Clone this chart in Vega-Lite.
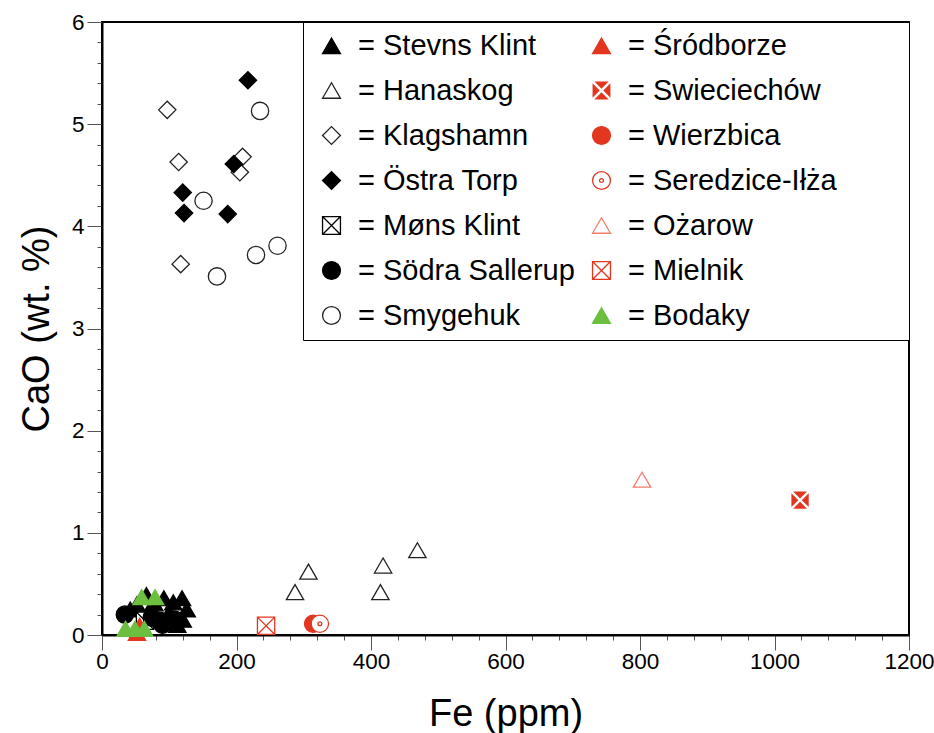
{
  "$schema": "https://vega.github.io/schema/vega-lite/v6.json",
  "width": 807,
  "height": 613,
  "autosize": {"type": "none"},
  "padding": {"left": 102, "top": 22, "right": 25, "bottom": 98},
  "background": "white",
  "config": {
    "view": {"stroke": "black", "strokeWidth": 2},
    "font": "Liberation Sans",
    "axis": {
      "domainColor": "black", "domainWidth": 2,
      "tickColor": "#555", "tickWidth": 1,
      "labelFont": "Liberation Sans", "labelFontSize": 22.5, "labelColor": "black",
      "labelOverlap": false, "labelBound": false, "labelFlush": false,
      "titleFont": "Liberation Sans", "titleFontWeight": "normal", "titleColor": "black",
      "grid": false
    },
    "legend": {
      "orient": "top-right", "offset": 0, "columns": 2,
      "padding": 9, "rowPadding": 15, "columnPadding": 7, "symbolOffset": 5,
      "symbolSize": 320, "symbolStrokeWidth": 1.3,
      "labelFont": "Liberation Sans", "labelFontSize": 29, "labelColor": "black", "labelOffset": 12, "labelLimit": 600,
      "fillColor": "white", "strokeColor": "black"
    }
  },
  "data": {
    "values": [
      {"site": "Hanaskog", "Fe": 307, "CaO": 0.62},
      {"site": "Hanaskog", "Fe": 287, "CaO": 0.42},
      {"site": "Hanaskog", "Fe": 418, "CaO": 0.68},
      {"site": "Hanaskog", "Fe": 414, "CaO": 0.42},
      {"site": "Hanaskog", "Fe": 469, "CaO": 0.83},
      {"site": "Klagshamn", "Fe": 97, "CaO": 5.14},
      {"site": "Klagshamn", "Fe": 114, "CaO": 4.63},
      {"site": "Klagshamn", "Fe": 209, "CaO": 4.68},
      {"site": "Klagshamn", "Fe": 205, "CaO": 4.53},
      {"site": "Klagshamn", "Fe": 117, "CaO": 3.63},
      {"site": "Smygehuk", "Fe": 235, "CaO": 5.13},
      {"site": "Smygehuk", "Fe": 151, "CaO": 4.25},
      {"site": "Smygehuk", "Fe": 171, "CaO": 3.51},
      {"site": "Smygehuk", "Fe": 229, "CaO": 3.72},
      {"site": "Smygehuk", "Fe": 261, "CaO": 3.81},
      {"site": "Ożarow", "Fe": 803, "CaO": 1.52},
      {"site": "Mielnik", "Fe": 244, "CaO": 0.09},
      {"site": "Wierzbica", "Fe": 314, "CaO": 0.11},
      {"site": "Seredzice-Iłża", "Fe": 324, "CaO": 0.11},
      {"site": "Swieciechów", "Fe": 1038, "CaO": 1.32},
      {"site": "Östra Torp", "Fe": 217, "CaO": 5.43},
      {"site": "Östra Torp", "Fe": 196, "CaO": 4.61},
      {"site": "Östra Torp", "Fe": 120, "CaO": 4.33},
      {"site": "Östra Torp", "Fe": 122, "CaO": 4.13},
      {"site": "Östra Torp", "Fe": 187, "CaO": 4.12},
      {"site": "Stevns Klint", "Fe": 42, "CaO": 0.25},
      {"site": "Stevns Klint", "Fe": 52, "CaO": 0.30},
      {"site": "Stevns Klint", "Fe": 66, "CaO": 0.39},
      {"site": "Stevns Klint", "Fe": 78, "CaO": 0.31},
      {"site": "Stevns Klint", "Fe": 92, "CaO": 0.36},
      {"site": "Stevns Klint", "Fe": 100, "CaO": 0.22},
      {"site": "Stevns Klint", "Fe": 106, "CaO": 0.32},
      {"site": "Stevns Klint", "Fe": 119, "CaO": 0.36},
      {"site": "Stevns Klint", "Fe": 126, "CaO": 0.25},
      {"site": "Stevns Klint", "Fe": 120, "CaO": 0.15},
      {"site": "Stevns Klint", "Fe": 112, "CaO": 0.10},
      {"site": "Stevns Klint", "Fe": 70, "CaO": 0.24},
      {"site": "Møns Klint", "Fe": 64, "CaO": 0.14},
      {"site": "Södra Sallerup", "Fe": 34, "CaO": 0.20},
      {"site": "Södra Sallerup", "Fe": 74, "CaO": 0.17},
      {"site": "Södra Sallerup", "Fe": 86, "CaO": 0.14},
      {"site": "Södra Sallerup", "Fe": 96, "CaO": 0.13},
      {"site": "Södra Sallerup", "Fe": 108, "CaO": 0.15},
      {"site": "Södra Sallerup", "Fe": 90, "CaO": 0.10},
      {"site": "Śródborze", "Fe": 52, "CaO": 0.02},
      {"site": "Śródborze", "Fe": 56, "CaO": 0.09},
      {"site": "Bodaky", "Fe": 59, "CaO": 0.37},
      {"site": "Bodaky", "Fe": 79, "CaO": 0.37},
      {"site": "Bodaky", "Fe": 35, "CaO": 0.06},
      {"site": "Bodaky", "Fe": 49, "CaO": 0.06},
      {"site": "Bodaky", "Fe": 63, "CaO": 0.06}
    ]
  },
  "layer": [
    {
      "mark": {"type": "point", "opacity": 0},
      "encoding": {
        "x": {
          "field": "Fe", "type": "quantitative",
          "axis": {
            "orient": "bottom", "title": null, "labels": false, "domain": false, "tickSize": 5,
            "values": [40,80,120,160,240,280,320,360,440,480,520,560,640,680,720,760,840,880,920,960,1040,1080,1120,1160]
          }
        },
        "y": {
          "field": "CaO", "type": "quantitative",
          "axis": {
            "orient": "left", "title": null, "labels": false, "domain": false, "tickSize": 5,
            "values": [0.2,0.4,0.6,0.8,1.2,1.4,1.6,1.8,2.2,2.4,2.6,2.8,3.2,3.4,3.6,3.8,4.2,4.4,4.6,4.8,5.2,5.4,5.6,5.8]
          }
        }
      }
    },
    {
      "mark": {"type": "point", "size": 300, "strokeWidth": 1.3, "opacity": 1, "clip": false},
      "encoding": {
        "x": {
          "field": "Fe", "type": "quantitative",
          "scale": {"domain": [0, 1200], "nice": false, "zero": false},
          "axis": {
            "orient": "bottom",
            "title": "Fe (ppm)", "titleFontSize": 38, "titlePadding": 23,
            "values": [0, 200, 400, 600, 800, 1000, 1200],
            "format": "d", "tickSize": 15, "labelPadding": 0
          }
        },
        "y": {
          "field": "CaO", "type": "quantitative",
          "scale": {"domain": [0, 6], "nice": false, "zero": false},
          "axis": {
            "orient": "left",
            "title": "CaO (wt. %)", "titleFontSize": 38, "titlePadding": 15,
            "values": [0, 1, 2, 3, 4, 5, 6],
            "format": "d", "tickSize": 15, "labelPadding": 3
          }
        },
        "shape": {
          "field": "site", "type": "nominal", "title": null,
          "scale": {
            "domain": ["Stevns Klint", "Hanaskog", "Klagshamn", "Östra Torp", "Møns Klint", "Södra Sallerup", "Smygehuk", "Śródborze", "Swieciechów", "Wierzbica", "Seredzice-Iłża", "Ożarow", "Mielnik", "Bodaky"],
            "range": ["triangle-up", "triangle-up", "diamond", "diamond",
              "M-1,-1L1,-1L1,1L-1,1Z M-1,-1L1,1 M1,-1L-1,1",
              "circle", "circle", "triangle-up",
              "M-0.8,-1L0.8,-1L0,-0.2Z M1,-0.8L1,0.8L0.2,0Z M0.8,1L-0.8,1L0,0.2Z M-1,0.8L-1,-0.8L-0.2,0Z",
              "circle",
              "M1,0A1,1,0,1,1,-1,0A1,1,0,1,1,1,0Z M0.22,0A0.22,0.22,0,1,1,-0.22,0A0.22,0.22,0,1,1,0.22,0Z",
              "triangle-up",
              "M-1,-1L1,-1L1,1L-1,1Z M-1,-1L1,1 M1,-1L-1,1",
              "triangle-up"]
          },
          "legend": {"labelExpr": "datum.label === 'Seredzice-Iłża' ? '= ' + datum.label + '\u2800\u2800\u2800' : '= ' + datum.label"}
        },
        "fill": {
          "field": "site", "type": "nominal", "title": null,
          "scale": {
            "domain": ["Stevns Klint", "Hanaskog", "Klagshamn", "Östra Torp", "Møns Klint", "Södra Sallerup", "Smygehuk", "Śródborze", "Swieciechów", "Wierzbica", "Seredzice-Iłża", "Ożarow", "Mielnik", "Bodaky"],
            "range": ["black", "transparent", "transparent", "black", "white", "black", "transparent", "#e2361f", "#e2361f", "#e2361f", "white", "transparent", "white", "#6cbf3f"]
          },
          "legend": {"labelExpr": "datum.label === 'Seredzice-Iłża' ? '= ' + datum.label + '\u2800\u2800\u2800' : '= ' + datum.label"}
        },
        "stroke": {
          "field": "site", "type": "nominal", "title": null,
          "scale": {
            "domain": ["Stevns Klint", "Hanaskog", "Klagshamn", "Östra Torp", "Møns Klint", "Södra Sallerup", "Smygehuk", "Śródborze", "Swieciechów", "Wierzbica", "Seredzice-Iłża", "Ożarow", "Mielnik", "Bodaky"],
            "range": ["black", "#222222", "#222222", "black", "black", "black", "#222222", "#e2361f", "transparent", "#e2361f", "#e2361f", "#f47c6a", "#e2361f", "#6cbf3f"]
          },
          "legend": {"labelExpr": "datum.label === 'Seredzice-Iłża' ? '= ' + datum.label + '\u2800\u2800\u2800' : '= ' + datum.label"}
        }
      }
    }
  ],
  "resolve": {"axis": {"x": "independent", "y": "independent"}}
}
